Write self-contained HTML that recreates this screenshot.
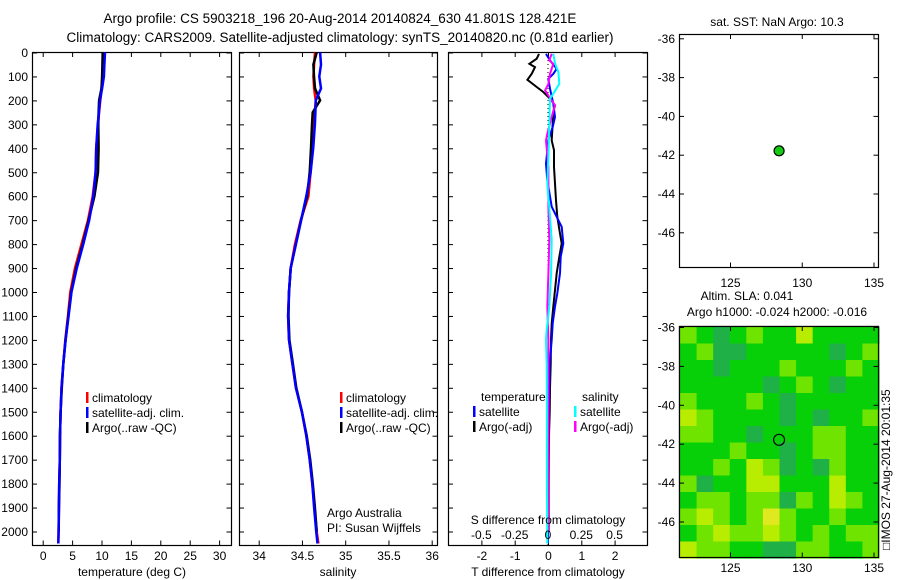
<!DOCTYPE html>
<html><head><meta charset="utf-8">
<style>
html,body{margin:0;padding:0;background:#fff;}
svg{display:block;font-family:"Liberation Sans",sans-serif;}
text{fill:#000;}
</style></head>
<body>
<svg id="fig" width="900" height="580" viewBox="0 0 900 580" xmlns="http://www.w3.org/2000/svg">
<g id="plots"></g>
<g id="static" font-size="13.5">
<text x="340" y="23" text-anchor="middle">Argo profile: CS 5903218_196 20-Aug-2014 20140824_630 41.801S 128.421E</text>
<text x="340" y="42" text-anchor="middle">Climatology: CARS2009. Satellite-adjusted climatology: synTS_20140820.nc (0.81d earlier)</text>
<text x="132" y="576" text-anchor="middle" font-size="12">temperature (deg C)</text>
<text x="338" y="576" text-anchor="middle" font-size="12">salinity</text>
<text x="548" y="576" text-anchor="middle" font-size="12">T difference from climatology</text>
<text x="548" y="524" text-anchor="middle" font-size="12">S difference from climatology</text>
<text x="327" y="517" font-size="12">Argo Australia</text>
<text x="327" y="532" font-size="12">PI: Susan Wijffels</text>
<text x="777" y="26" text-anchor="middle" font-size="12">sat. SST: NaN Argo: 10.3</text>
<text x="747" y="300" text-anchor="middle" font-size="12">Altim. SLA: 0.041</text>
<text x="777" y="316" text-anchor="middle" font-size="12">Argo h1000: -0.024 h2000: -0.016</text>
<text transform="translate(890,550) rotate(-90)" font-size="12">□IMOS 27-Aug-2014 20:01:35</text>
</g>
</svg>
<script>
// ---- profile data (depth in m) ----
const depths = [0,50,100,150,200,250,300,400,500,600,700,800,900,1000,1100,1200,1300,1400,1500,1600,1700,1800,1900,2000,2050];
const tempClim = [10.4,10.3,10.2,10.0,9.8,9.6,9.4,9.1,9.0,8.5,7.7,6.6,5.5,4.7,4.3,3.85,3.5,3.2,3.05,2.95,2.9,2.8,2.75,2.7,2.65];
const tempSat  = [10.6,10.5,10.4,10.1,9.75,9.55,9.35,9.1,9.0,8.6,7.9,6.9,5.8,4.9,4.4,3.9,3.5,3.2,3.05,2.95,2.9,2.8,2.75,2.7,2.65];
const tempArgo = [10.2,10.15,10.1,10.0,9.6,9.5,9.45,9.5,9.4,8.8,7.8,6.8,5.7,4.85,4.35,3.9,3.5,3.25,3.05,2.95,2.9,2.85,2.75,2.72,null];
const salClim  = [34.651,34.64,34.632,34.64,34.659,34.65,34.639,34.624,34.60,34.574,34.485,34.42,34.37,34.35,34.34,34.35,34.39,34.43,34.50,34.55,34.59,34.62,34.645,34.67,34.69];
const salSat   = [34.71,34.72,34.70,34.72,34.66,34.655,34.65,34.63,34.60,34.55,34.49,34.43,34.37,34.35,34.34,34.35,34.39,34.43,34.50,34.55,34.59,34.62,34.64,34.665,34.68];
const salArgo  = [34.67,34.632,34.639,34.651,34.71,34.624,34.616,34.605,34.59,34.56,34.49,34.43,34.37,34.35,34.345,34.355,34.395,34.435,34.50,34.555,34.595,34.625,34.65,34.67,null];
// ---- difference data ----
const dTArgoDepth = [6,26,47,61,89,114,144,165,193,221,249,297,367,408,478,547,617,686,756,797,853,922,992,1061,1131,1200,1300,1400,1500,1600,1800,2000];
const dTArgo      = [-0.27,-0.34,-0.56,-0.39,-0.49,-0.62,-0.34,-0.14,0.06,0.21,0.16,0.14,0.11,0.18,0.18,0.21,0.24,0.28,0.36,0.41,0.34,0.26,0.21,0.16,0.11,0.09,0.08,0.06,0.05,0.03,0.02,0.02];
const dTSatDepth  = [6,33,68,89,110,151,214,269,311,367,464,533,644,686,728,797,853,922,1006,1061,1131,1200,1300,1500,1800,2050];
const dTSat       = [-0.06,0.06,0.26,0.16,0.01,0.06,0.16,0.21,0.14,0.01,-0.06,-0.02,0.11,0.26,0.41,0.46,0.38,0.36,0.28,0.21,0.14,0.11,0.05,0.02,0.0,0.0];
const dSSatDepth  = [6,47,82,131,172,193,297,436,547,686,783,922,1061,1158,1200,1300,1500,1800,2050];
const dSSat       = [0.04,0.053,0.078,0.085,0.04,0.015,0.01,0.003,-0.005,0.015,0.028,0.023,0.01,-0.01,-0.015,-0.01,-0.008,-0.008,-0.005];
const dSArgoDepth = [6,33,47,89,131,158,186,221,269,339,367,478,644,783,922,1061,1200,1400,1600,1800,2000];
const dSArgo      = [0.028,0.01,0.04,0.015,0.003,-0.022,0.01,0.052,0.028,-0.005,-0.015,0.003,0.003,0.01,0.003,-0.005,0.003,0.002,0.004,0.002,0.002];
// ---- map data ----
const floatLon = 128.42, floatLat = -41.8;
const slaLevels = [
[2,1,0,1,2,1,1,3,1,1,1,1],
[1,2,0,0,1,1,1,1,1,0,1,2],
[1,1,0,1,1,1,2,1,1,1,2,1],
[1,1,1,1,1,0,1,2,1,0,1,1],
[2,1,1,1,2,1,0,1,1,1,1,1],
[3,2,1,1,1,1,0,1,0,1,1,2],
[2,2,1,1,0,1,1,1,2,2,1,1],
[1,1,1,2,1,1,0,1,2,2,1,1],
[1,1,2,1,3,2,0,1,0,2,1,1],
[2,0,1,1,3,3,1,1,1,3,1,1],
[1,2,2,1,2,2,0,2,1,3,2,1],
[2,3,2,1,2,4,2,1,1,2,1,1],
[1,2,3,2,2,3,2,1,2,1,2,2],
[3,2,2,1,1,0,0,2,2,1,1,2]];
const depthTicks = [0,100,200,300,400,500,600,700,800,900,1000,1100,1200,1300,1400,1500,1600,1700,1800,1900,2000];
const tempTicks = [0,5,10,15,20,25,30];
const salTicks = [34,34.5,35,35.5,36];
const salTickLabels = ["34","34.5","35","35.5","36"];
const dTTicks = [-2,-1,0,1,2];
const dSTicks = [-0.5,-0.25,0,0.25,0.5];
const dSTickLabels = ["-0.5","-0.25","0","0.25","0.5"];
const latTicks = [-36,-38,-40,-42,-44,-46];
const lonTicks = [125,130,135];

const NS="http://www.w3.org/2000/svg";
const root=document.getElementById('plots');
function mk(tag,attrs,parent){const e=document.createElementNS(NS,tag);for(const k in attrs)e.setAttribute(k,attrs[k]);(parent||root).appendChild(e);return e;}
function txt(x,y,s,anchor,parent,size){const t=mk('text',{x:x,y:y,'text-anchor':anchor||'middle','font-size':size||12},parent);t.textContent=s;return t;}

const Y=d=>52.5+d*0.2395;
const xT=v=>42.7+v*5.88;
const xS=v=>258.7+(v-34)*86.5;
const xD=v=>548+v*33.3;
const xDS=v=>548+v*133.2;
const lonX=l=>730+(l-125)*14.35;
const lat1Y=l=>38.3+(-36-l)*19.4;
const lat2Y=l=>327+(-36-l)*19.45;

function panel(x0,x1,y0,y1,name){
  const g=mk('g',{});
  
  
  mk('rect',{x:x0+0.5,y:y0+0.5,width:x1-x0,height:y1-y0,fill:'#fff',stroke:'#000','stroke-width':1.2},g);
  return g;
}
function xticks(g,vals,fx,y0,y1,labels,ly){
  vals.forEach((v,i)=>{const x=fx(v)+0.5;
    mk('line',{x1:x,x2:x,y1:y0,y2:y0+5,stroke:'#000'},g);
    mk('line',{x1:x,x2:x,y1:y1,y2:y1-5,stroke:'#000'},g);
    if(labels){const t=txt(x,ly,labels[i],'middle',g);}
  });
}
function yticks(g,vals,fy,x0,x1,labels,lx){
  vals.forEach((v,i)=>{const y=fy(v)+0.5;
    mk('line',{x1:x0,x2:x0+5,y1:y,y2:y,stroke:'#000'},g);
    mk('line',{x1:x1,x2:x1-5,y1:y,y2:y,stroke:'#000'},g);
    if(labels){const t=txt(lx,y+4,labels[i],'end',g);}
  });
}
function line(g,xs,ds,fx,color,name,w){
  let pts=[];
  for(let i=0;i<xs.length;i++){ if(xs[i]===null||xs[i]===undefined)continue; pts.push(fx(xs[i]).toFixed(1)+','+Y(ds[i]).toFixed(1)); }
  const p=mk('polyline',{points:pts.join(' '),fill:'none',stroke:color,'stroke-width':w||2},g);
  
  
  return p;
}
function legend(g,x,y,items){
  items.forEach((it,i)=>{
    const yy=y+i*15;
    if(it.c) mk('rect',{x:x,y:yy-10,width:2.5,height:11,fill:it.c},g);
    const t=txt(x+(it.c?6:8),yy,it.t,'start',g);
    
    
  });
}

// Panel 1: temperature
const p1=panel(32,231,52,545,'temperature-panel');
yticks(p1,depthTicks,Y,32,231.5,depthTicks.map(String),28);
xticks(p1,tempTicks,xT,52,545.5,tempTicks.map(String),560);
line(p1,tempClim,depths,xT,'#f00','temp-climatology-line',2.5);
line(p1,tempArgo,depths,xT,'#000','temp-argo-line',2.5);
line(p1,tempSat,depths,xT,'#00f','temp-satellite-line',2.5);
legend(p1,86,402,[{c:'#f00',t:'climatology'},{c:'#00f',t:'satellite-adj. clim.'},{c:'#000',t:'Argo(..raw -QC)'}]);

// Panel 2: salinity
const p2=panel(239,437,52,545,'salinity-panel');
yticks(p2,depthTicks,Y,239,437.5,null,0);
xticks(p2,salTicks,xS,52,545.5,salTickLabels,560);
line(p2,salClim,depths,xS,'#f00','sal-climatology-line',2.5);
line(p2,salArgo,depths,xS,'#000','sal-argo-line',2.5);
line(p2,salSat,depths,xS,'#00f','sal-satellite-line',2.5);
legend(p2,340,402,[{c:'#f00',t:'climatology'},{c:'#00f',t:'satellite-adj. clim.'},{c:'#000',t:'Argo(..raw -QC)'}]);

// Panel 3: differences
const p3=panel(448,647,52,545,'difference-panel');
yticks(p3,depthTicks,Y,448,647.5,null,0);
xticks(p3,dTTicks,xD,52,545.5,dTTicks.map(String),560);
const zl=mk('line',{x1:xD(0),x2:xD(0),y1:52,y2:545,stroke:'#000','stroke-dasharray':'1,3'},p3);


line(p3,dTArgo,dTArgoDepth,xD,'#000','t-diff-argo-line',2);
line(p3,dTSat,dTSatDepth,xD,'#00f','t-diff-satellite-line',2);
line(p3,dSArgo,dSArgoDepth,xDS,'#f0f','s-diff-argo-line',2);
line(p3,dSSat,dSSatDepth,xDS,'#0ff','s-diff-satellite-line',2);
dSTicks.forEach((v,i)=>{const t=txt(xDS(v),539,dSTickLabels[i],'middle',p3);});
legend(p3,473,401,[{c:null,t:'temperature'},{c:'#00f',t:'satellite'},{c:'#000',t:'Argo(-adj)'}]);
legend(p3,574,401,[{c:null,t:'salinity'},{c:'#0ff',t:'satellite'},{c:'#f0f',t:'Argo(-adj)'}]);

// Map 1
const m1=panel(679,878,34,267,'sst-map');
yticks(m1,latTicks,lat1Y,679,878.5,latTicks.map(String),675);
xticks(m1,lonTicks,lonX,34,267.5,lonTicks.map(String),287);
const d1=mk('circle',{cx:lonX(floatLon),cy:lat1Y(floatLat),r:5,fill:'#1c1',stroke:'#000','stroke-width':1.2},m1);



// Map 2
const m2=panel(679,878,326,557,'sla-map');
const colors=['#20b048','#08d008','#6ee400','#b8ec00','#e0e820'];
const rows=slaLevels.length, cols=slaLevels[0].length;
const cw=(878-679)/cols, ch=(557-326)/rows;
slaLevels.forEach((r,ri)=>r.forEach((v,ci)=>{
  const c=mk('rect',{x:680+ci*cw,y:327+ri*ch,width:cw+0.6,height:ch+0.6,fill:colors[v]},m2);
  
  
}));
mk('rect',{x:679.5,y:326.5,width:199,height:231,fill:'none',stroke:'#000','stroke-width':1.2},m2);
yticks(m2,latTicks,lat2Y,679,878.5,latTicks.map(String),675);
xticks(m2,lonTicks,lonX,326,557.5,lonTicks.map(String),572);
const d2=mk('circle',{cx:lonX(floatLon),cy:lat2Y(floatLat),r:5.5,fill:'none',stroke:'#000','stroke-width':1.2},m2);


</script>
</body></html>
